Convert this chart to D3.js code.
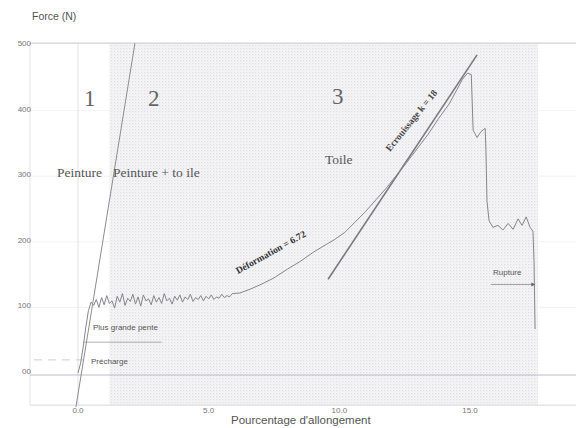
<!DOCTYPE html>
<html>
<head>
    <meta charset="utf-8">
    <title>Force / allongement</title>
    <style>
        body { margin: 0; background: white; }
        svg { display: block; }
        .tick-label { font-family: "Liberation Sans", Arial, sans-serif; font-size: 8px; fill: #777; }
        .note { font-family: "Liberation Sans", Arial, sans-serif; font-size: 8px; fill: #555; }
        .zone { font-family: "Liberation Serif", "DejaVu Serif", serif; fill: #666; }
    </style>
</head>
<body>
<svg width="576" height="428"></svg>
<script src="https://d3js.org/d3.v7.min.js"></script>
<script>
    const strainPct = [0, 0.1, 0.2, 0.3, 0.4,
        0.5, 0.6, 0.7, 0.8, 0.9, 1.0, 1.1, 1.2, 1.3, 1.4, 1.5, 1.6, 1.7, 1.8, 1.9,
        2.0, 2.1, 2.2, 2.3, 2.4, 2.5, 2.6, 2.7, 2.8, 2.9, 3.0, 3.1, 3.2, 3.3, 3.4,
        3.5, 3.6, 3.7, 3.8, 3.9, 4.0, 4.1, 4.2, 4.3, 4.4, 4.5, 4.6, 4.7, 4.8, 4.9,
        5.0, 5.1, 5.2, 5.3, 5.4, 5.5, 5.6, 5.7, 5.8, 5.9,
        6.2, 6.6, 7.0, 7.5, 8.0, 8.5, 9.0, 9.5, 9.8, 10.2, 10.6, 11.0, 11.4, 11.8,
        12.2, 12.6, 13.0, 13.4, 13.8, 14.2, 14.5, 14.7, 14.9, 15.05,
        15.12, 15.27, 15.42, 15.58, 15.61, 15.65, 15.73, 15.88, 16.07, 16.26, 16.46,
        16.65, 16.84, 16.99, 17.15, 17.3, 17.41, 17.45, 17.49];
    const forceN = [0, 15, 40, 70, 95,
        108, 103, 112, 100, 115, 104, 118, 106, 110, 99, 117, 108, 121, 103, 114,
        109, 120, 105, 116, 102, 119, 110, 113, 104, 118, 108, 115, 106, 121, 110,
        114, 105, 117, 111, 119, 108, 116, 112, 120, 109, 115, 112, 118, 110, 117,
        113, 119, 112, 116, 114, 120, 115, 118, 116, 121,
        122, 128, 135, 145, 158, 170, 184, 196, 203, 214, 230, 246, 264, 282,
        302, 322, 343, 364, 388, 410, 432, 447, 457, 455,
        370, 359, 368, 373, 339, 262, 232, 222, 225, 218, 228,
        219, 235, 225, 238, 222, 216, 170, 67];

    // droites tracées sur le graphique [x1, F1, x2, F2]
    const slopeMax = [-0.08, -52, 2.18, 503];
    const slopeToile = [9.57, 143, 15.27, 485];

    const yTicks = [0, 100, 200, 300, 400, 500];
    const yTickText = ["00", "100", "200", "300", "400", "500"];
    const xTicks = [0, 5, 10, 15];
    const xTickText = ["0.0", "5.0", "10.0", "15.0"];

    const shadedZone = [1.2, 17.6];
    const frameX = [-1.84, 19.1];
    const frameY = [-49, 503];
    const prechargeN = 20;
    const penteN = 47;
    const ruptureN = 135;

    const svg = d3.select("svg");
    const x = d3.scaleLinear().domain([0, 15]).range([78, 470]);
    const y = d3.scaleLinear().domain([0, 500]).range([373, 45]);

    // motif pointillé du scan
    const defs = svg.append("defs");
    const pat = defs.append("pattern")
        .attr("id", "dots").attr("width", 3).attr("height", 3)
        .attr("patternUnits", "userSpaceOnUse");
    pat.append("rect").attr("width", 3).attr("height", 3).attr("fill", "#f7f7f8");
    pat.append("rect").attr("width", 1.3).attr("height", 1.3).attr("fill", "#dddde2");
    pat.append("rect").attr("x", 1.5).attr("y", 1.5).attr("width", 1.1).attr("height", 1.1).attr("fill", "#e8e8ec");

    svg.append("rect")
        .attr("x", x(shadedZone[0])).attr("y", y(frameY[1]))
        .attr("width", x(shadedZone[1]) - x(shadedZone[0]))
        .attr("height", y(frameY[0]) - y(frameY[1]))
        .attr("fill", "url(#dots)");

    // grille légère
    svg.selectAll(".hgrid").data(yTicks.slice(1, 5)).enter().append("line")
        .attr("x1", x(frameX[0])).attr("x2", 576)
        .attr("y1", d => y(d)).attr("y2", d => y(d))
        .attr("stroke", "#efeff2").attr("stroke-width", 0.8);
    svg.selectAll(".vgrid").data(xTicks.slice(1)).enter().append("line")
        .attr("x1", d => x(d)).attr("x2", d => x(d))
        .attr("y1", y(frameY[1])).attr("y2", y(frameY[0]))
        .attr("stroke", "#efeff2").attr("stroke-width", 0.8);

    // cadre
    svg.append("line").attr("x1", x(frameX[0])).attr("x2", 576)
        .attr("y1", y(frameY[1])).attr("y2", y(frameY[1]))
        .attr("stroke", "#d2d2d6").attr("stroke-width", 1.3);
    svg.append("line").attr("x1", x(frameX[0])).attr("x2", 576)
        .attr("y1", y(frameY[0])).attr("y2", y(frameY[0]))
        .attr("stroke", "#d8d8dc").attr("stroke-width", 1);
    svg.append("line").attr("x1", x(frameX[0])).attr("x2", x(frameX[0]))
        .attr("y1", y(frameY[1])).attr("y2", y(frameY[0]))
        .attr("stroke", "#e4e4e8").attr("stroke-width", 1);
    svg.append("line").attr("x1", x(0)).attr("x2", x(0))
        .attr("y1", y(frameY[1])).attr("y2", y(frameY[0]))
        .attr("stroke", "#e2e2e6").attr("stroke-width", 1);
    // ligne du zéro
    svg.append("line").attr("x1", x(frameX[0])).attr("x2", 576)
        .attr("y1", y(0) + 2).attr("y2", y(0) + 2)
        .attr("stroke", "#b9b2c6").attr("stroke-width", 0.9);

    // graduations
    svg.selectAll(".yt").data(yTicks).enter().append("text")
        .attr("class", "tick-label").attr("text-anchor", "end")
        .attr("x", 31).attr("y", d => y(d) + 1)
        .text((d, i) => yTickText[i]);
    svg.selectAll(".xt").data(xTicks).enter().append("text")
        .attr("class", "tick-label").attr("text-anchor", "middle")
        .attr("x", d => x(d)).attr("y", 413)
        .text((d, i) => xTickText[i]);

    svg.append("text").attr("x", 32).attr("y", 20)
        .style("font-family", "Liberation Sans, Arial, sans-serif")
        .style("font-size", "10.5px").style("fill", "#555")
        .text("Force (N)");
    svg.append("text").attr("x", 231).attr("y", 424)
        .style("font-family", "Liberation Sans, Arial, sans-serif")
        .style("font-size", "11.5px").style("fill", "#555")
        .text("Pourcentage d'allongement");

    // précharge et plus grande pente
    svg.append("line").attr("x1", x(frameX[0]) + 4).attr("x2", x(0.2))
        .attr("y1", y(prechargeN)).attr("y2", y(prechargeN))
        .attr("stroke", "#c8c8cc").attr("stroke-width", 0.9)
        .attr("stroke-dasharray", "8,6");
    svg.append("text").attr("class", "note").attr("x", 91).attr("y", 364).text("Précharge");
    svg.append("line").attr("x1", x(0.2)).attr("x2", x(3.2))
        .attr("y1", y(penteN)).attr("y2", y(penteN))
        .attr("stroke", "#9a9a9e").attr("stroke-width", 0.8);
    svg.append("text").attr("class", "note").attr("x", 93).attr("y", 330).text("Plus grande pente");

    // droites de pente
    [slopeMax, slopeToile].forEach((s, i) => {
        svg.append("line")
            .attr("x1", x(s[0])).attr("y1", y(s[1]))
            .attr("x2", x(s[2])).attr("y2", y(s[3]))
            .attr("stroke", i === 0 ? "#8c8c90" : "#7a7a7e")
            .attr("stroke-width", i === 0 ? 1 : 1.6);
    });

    // courbe
    const pts = strainPct.map((s, i) => [s, forceN[i]]);
    svg.append("path").datum(pts)
        .attr("d", d3.line().x(d => x(d[0])).y(d => y(d[1])))
        .attr("fill", "none").attr("stroke", "#86868a").attr("stroke-width", 1);

    // rupture
    svg.append("line").attr("x1", x(15.8)).attr("x2", x(17.45))
        .attr("y1", y(ruptureN)).attr("y2", y(ruptureN))
        .attr("stroke", "#8a8a8e").attr("stroke-width", 0.8);
    svg.append("path")
        .attr("d", `M${x(17.5)},${y(ruptureN)} l-4,-2 l0,4 z`)
        .attr("fill", "#666");
    svg.append("text").attr("class", "note").attr("x", 493).attr("y", 275).text("Rupture");

    // zones
    const zoneNums = [["1", 84, 106], ["2", 148, 106], ["3", 332, 104]];
    zoneNums.forEach(z => {
        svg.append("text").attr("class", "zone").attr("x", z[1]).attr("y", z[2])
            .style("font-size", "23px").text(z[0]);
    });
    const zoneNames = [["Peinture", 57, 177], ["Peinture + to ile", 113, 177], ["Toile", 325, 164]];
    zoneNames.forEach(z => {
        svg.append("text").attr("class", "zone").attr("x", z[1]).attr("y", z[2])
            .style("font-size", "13.5px").style("fill", "#555").text(z[0]);
    });

    // annotations inclinées
    svg.append("text")
        .attr("transform", "translate(238,274) rotate(-29)")
        .style("font-family", "Liberation Serif, serif").style("font-size", "9.5px")
        .style("font-weight", "bold").style("fill", "#333")
        .text("Déformation = 6.72");
    svg.append("text")
        .attr("transform", "translate(390,152) rotate(-51)")
        .style("font-family", "Liberation Serif, serif").style("font-size", "9.5px")
        .style("font-weight", "bold").style("fill", "#444")
        .text("Ecrouissage k = 18");
</script>
</body>
</html>
